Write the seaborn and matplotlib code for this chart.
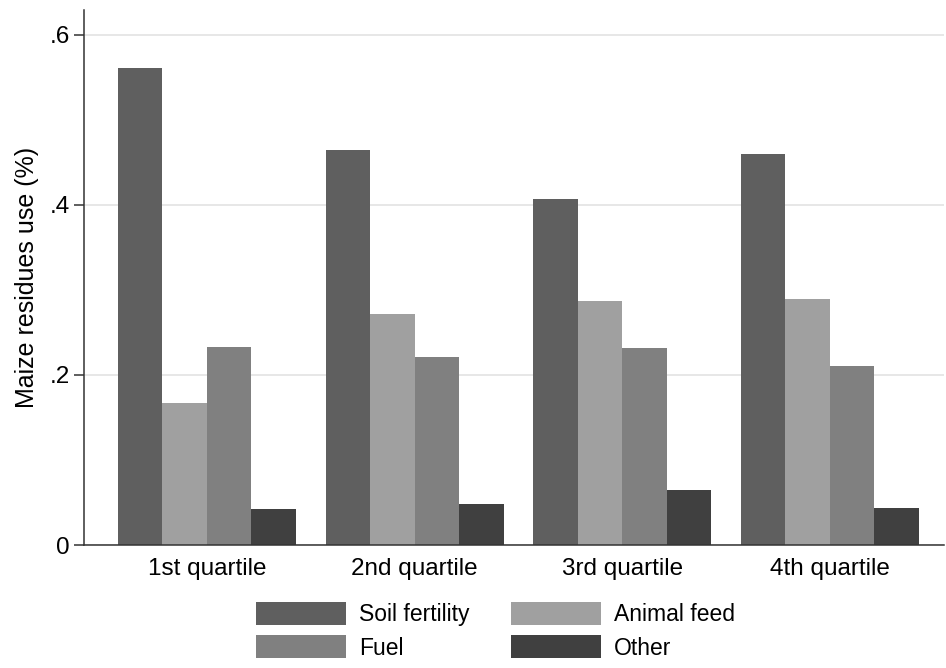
import matplotlib
matplotlib.use("Agg")
import matplotlib.pyplot as plt
import matplotlib.patches as mpatches
import seaborn as sns
import pandas as pd

categories = ["1st quartile", "2nd quartile", "3rd quartile", "4th quartile"]
series = ["Soil fertility", "Animal feed", "Fuel", "Other"]
soil_fertility = [0.561, 0.464, 0.407, 0.460]
animal_feed = [0.167, 0.271, 0.287, 0.289]
fuel = [0.233, 0.221, 0.232, 0.211]
other = [0.042, 0.048, 0.065, 0.044]
colors = ["#5f5f5f", "#a0a0a0", "#808080", "#404040"]
yticks = [0, 0.2, 0.4, 0.6]
yticklabels = ["0", ".2", ".4", ".6"]

rows = []
for s, vals in zip(series, [soil_fertility, animal_feed, fuel, other]):
    for c, v in zip(categories, vals):
        rows.append({"quartile": c, "use": s, "value": v})
df = pd.DataFrame(rows)

sns.set_style("white")
plt.rcParams["font.family"] = ["Liberation Sans", "DejaVu Sans"]
plt.rcParams["text.color"] = "black"
plt.rcParams["axes.labelcolor"] = "black"
plt.rcParams["xtick.color"] = "black"
plt.rcParams["ytick.color"] = "black"

W, H = 946, 668
fig = plt.figure(figsize=(W / 100, H / 100), dpi=100)
ax = fig.add_axes([84 / W, (H - 545) / H, (944 - 84) / W, (545 - 10) / H])

sns.barplot(data=df, x="quartile", y="value", hue="use", order=categories,
            hue_order=series, palette=colors, width=0.857, gap=0,
            linewidth=0, saturation=1, legend=False, ax=ax, errorbar=None)

ax.set_xlim(-0.592, 3.55)
ax.set_ylim(0, 0.629)
ax.set_yticks(yticks)
ax.set_yticklabels(yticklabels)
ax.yaxis.grid(True, color="#e3e3e3", linewidth=1.2)
ax.set_axisbelow(True)
for sp in ["top", "right"]:
    ax.spines[sp].set_visible(False)
for sp in ["left", "bottom"]:
    ax.spines[sp].set_color("#333333")
    ax.spines[sp].set_linewidth(1.1)
ax.tick_params(axis="y", length=7, width=1.1, color="#333333", labelcolor="black",
               labelsize=17.5, pad=3, left=True)
ax.tick_params(axis="x", length=0, labelsize=17.5, labelcolor="black", pad=9)
ax.set_xlabel("")
ax.set_ylabel("Maize residues use (%)", fontsize=18, labelpad=8, color="black")

handles = [mpatches.Patch(facecolor=c, edgecolor="none", label=s) for s, c in zip(series, colors)]
order = [0, 2, 1, 3]
fig.legend([handles[i] for i in order], [series[i] for i in order], ncol=2,
           loc="upper left", bbox_to_anchor=(256 / W, 1 - 602 / H),
           frameon=False, fontsize=16.5, handlelength=3.93, handleheight=1.18,
           handletextpad=0.57, columnspacing=1.8, labelspacing=0.39,
           borderpad=0, borderaxespad=0, labelcolor="black")

fig.savefig("out.png", dpi=100)
